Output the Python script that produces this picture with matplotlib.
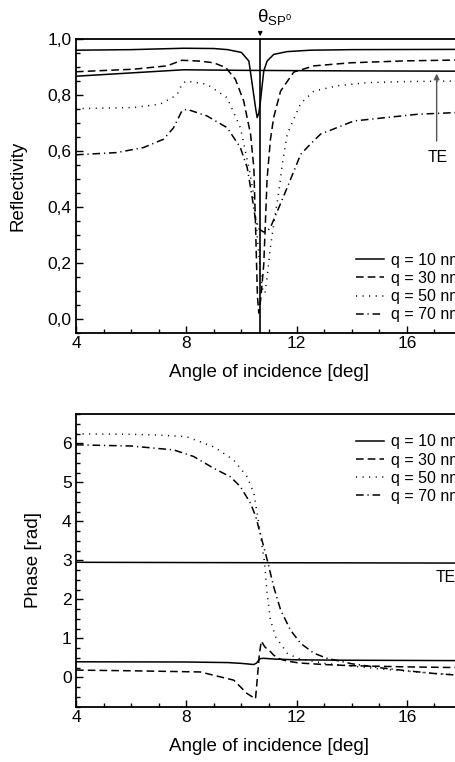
import matplotlib
matplotlib.use("Agg")
import matplotlib.pyplot as plt
from matplotlib.ticker import MultipleLocator, FixedLocator, FixedFormatter

plt.rcParams['font.family'] = ['Liberation Sans', 'DejaVu Sans']
plt.rcParams['mathtext.fontset'] = 'custom'
plt.rcParams['mathtext.rm'] = 'Liberation Sans'
plt.rcParams['mathtext.it'] = 'Liberation Sans:italic'

# ---------------- data: reflectivity ----------------
series_labels = ['q = 10 nm', 'q = 30 nm', 'q = 50 nm', 'q = 70 nm']

r_x10 = [4, 6, 7.9, 9.0, 9.5, 10.0, 10.27, 10.39, 10.51, 10.57, 10.63, 10.69, 10.81, 10.93, 11.17, 11.66, 12.5, 14, 18]
r_y10 = [0.960, 0.962, 0.967, 0.966, 0.962, 0.952, 0.921, 0.839, 0.755, 0.719, 0.735, 0.779, 0.886, 0.921, 0.945, 0.955, 0.960, 0.962, 0.963]

r_x30 = [4, 6.08, 7.3, 7.84, 8.5, 8.99, 9.43, 9.78, 10.08, 10.33, 10.45, 10.52, 10.58, 10.63, 10.7, 10.81, 10.93, 11.05, 11.17, 11.42, 11.9, 12.63, 13.96, 16, 18]
r_y30 = [0.883, 0.892, 0.904, 0.924, 0.921, 0.915, 0.898, 0.856, 0.779, 0.660, 0.540, 0.300, 0.080, 0.020, 0.070, 0.195, 0.500, 0.640, 0.720, 0.814, 0.882, 0.904, 0.915, 0.922, 0.925]

r_x50 = [4, 6.08, 7.05, 7.66, 7.84, 8.0, 8.75, 9.48, 9.96, 10.27, 10.45, 10.6, 10.75, 10.85, 10.93, 11.05, 11.17, 11.36, 11.48, 11.66, 12.15, 12.63, 13.5, 14.57, 16, 18]
r_y50 = [0.751, 0.755, 0.767, 0.800, 0.838, 0.850, 0.838, 0.790, 0.683, 0.540, 0.440, 0.260, 0.110, 0.090, 0.148, 0.255, 0.338, 0.457, 0.552, 0.660, 0.770, 0.814, 0.833, 0.844, 0.848, 0.850]

r_x70 = [4, 5.48, 6.45, 7.18, 7.54, 7.84, 8.02, 8.75, 9.48, 9.96, 10.21, 10.39, 10.5, 10.65, 10.8, 10.95, 11.05, 11.36, 11.66, 12.15, 12.5, 12.87, 14.08, 16.39, 18]
r_y70 = [0.586, 0.594, 0.612, 0.642, 0.683, 0.743, 0.749, 0.725, 0.683, 0.612, 0.540, 0.433, 0.360, 0.320, 0.310, 0.315, 0.326, 0.398, 0.469, 0.588, 0.624, 0.660, 0.707, 0.731, 0.738]

r_xte = [4, 7.9, 10, 14, 18]
r_yte = [0.867, 0.890, 0.888, 0.886, 0.885]

theta_sp0 = 10.68

# ---------------- data: phase ----------------
p_x10 = [4, 8, 9.5, 10.0, 10.45, 10.55, 10.67, 10.8, 11.2, 12, 14, 18]
p_y10 = [0.40, 0.395, 0.38, 0.36, 0.33, 0.37, 0.48, 0.49, 0.47, 0.45, 0.44, 0.43]

p_x30 = [4, 6, 8.5, 9.72, 10.2, 10.51, 10.57, 10.65, 10.72, 10.85, 11.05, 11.17, 11.4, 11.66, 12.08, 13, 14, 16, 18]
p_y30 = [0.187, 0.17, 0.14, -0.07, -0.41, -0.55, -0.07, 0.60, 0.93, 0.78, 0.66, 0.57, 0.47, 0.42, 0.37, 0.33, 0.30, 0.27, 0.25]

p_x50 = [4, 6, 7, 8, 8.99, 9.72, 10.21, 10.45, 10.63, 10.75, 10.84, 10.93, 11.05, 11.24, 11.66, 12.03, 13, 14, 15, 16, 17, 18]
p_y50 = [6.24, 6.23, 6.21, 6.17, 5.91, 5.57, 5.14, 4.72, 3.95, 3.35, 2.94, 2.15, 1.47, 1.04, 0.62, 0.49, 0.36, 0.29, 0.22, 0.16, 0.10, 0.06]

p_x70 = [4, 6, 6.45, 7.54, 8.27, 8.99, 9.6, 9.96, 10.33, 10.52, 10.96, 11.17, 11.42, 11.78, 12.15, 12.63, 13.1, 14, 15, 16, 17, 18]
p_y70 = [5.96, 5.93, 5.90, 5.83, 5.66, 5.36, 5.14, 4.89, 4.46, 4.12, 2.94, 2.32, 1.73, 1.21, 0.87, 0.62, 0.49, 0.35, 0.25, 0.17, 0.10, 0.05]

p_xte = [4, 10, 18]
p_yte = [2.95, 2.94, 2.93]

refl_ticks = [0.0, 0.2, 0.4, 0.6, 0.8, 1.0]
refl_ticklabels = ['0,0', '0,2', '0,4', '0,6', '0,8', '1,0']
phase_ticks = [0, 1, 2, 3, 4, 5, 6]
angle_ticks = [4, 8, 12, 16]

# ---------------- styles ----------------
LW = 1.1
styles = [dict(ls='-'),
          dict(ls=(0, (5, 2.7))),
          dict(ls=(0, (0.7, 3.6))),
          dict(ls=(0, (5, 2.5, 0.8, 2.5)))]

fig = plt.figure(figsize=(4.56, 7.62), dpi=100)
ax1 = fig.add_axes([0.1667, 0.5634, 0.8465, 0.3854])
ax2 = fig.add_axes([0.1667, 0.0726, 0.8465, 0.3841])

def style_axes(ax):
    for s in ax.spines.values():
        s.set_linewidth(1.3)
    ax.tick_params(which='both', direction='in', top=False, right=False, labelsize=12.5)
    ax.tick_params(which='major', length=5, width=1.0)
    ax.tick_params(which='minor', length=3, width=1.0)
    ax.tick_params(axis='x', pad=2.5)
    ax.tick_params(axis='y', pad=3.2)
    ax.xaxis.set_major_locator(FixedLocator(angle_ticks))
    ax.xaxis.set_minor_locator(MultipleLocator(1))
    ax.set_xlim(4, 18)
    ax.set_xlabel('Angle of incidence [deg]', fontsize=13.5)
    ax.xaxis.set_label_coords(0.5, -0.108)

legend_kw = dict(loc='upper left', frameon=False, fontsize=11.5, handlelength=1.75,
                 handletextpad=0.45, labelspacing=0.2, borderaxespad=0, borderpad=0)

# ----- top: reflectivity -----
for (x, y), st, lab in zip([(r_x10, r_y10), (r_x30, r_y30), (r_x50, r_y50), (r_x70, r_y70)], styles, series_labels):
    ax1.plot(x, y, color='black', lw=LW, label=lab, **st)
ax1.plot(r_xte, r_yte, color='black', lw=LW)
ax1.plot([theta_sp0, theta_sp0], [-0.05, 1.0], color='black', lw=1.2)
ax1.set_ylim(-0.05, 1.0)
style_axes(ax1)
ax1.yaxis.set_major_locator(FixedLocator(refl_ticks))
ax1.yaxis.set_major_formatter(FixedFormatter(refl_ticklabels))
ax1.yaxis.set_minor_locator(MultipleLocator(0.05))
ax1.set_ylabel('Reflectivity', fontsize=13.5)
ax1.yaxis.set_label_coords(-0.127, 0.5)

ax1.annotate('', xy=(17.08, 0.886), xytext=(17.08, 0.625),
             arrowprops=dict(arrowstyle='-|>', color='#555555', lw=1.0, mutation_scale=8))
ax1.text(17.13, 0.575, 'TE', fontsize=11.3, ha='center', va='center')

ax1.annotate('', xy=(theta_sp0, 1.0), xytext=(theta_sp0, 1.035),
             arrowprops=dict(arrowstyle='-|>', color='black', lw=0.9, mutation_scale=6),
             annotation_clip=False)
ax1.text(10.58, 1.061, r'θ$_{\mathrm{SP}^{\mathrm{0}}}$', fontsize=13.5, ha='left', va='baseline')

ax1.legend(bbox_to_anchor=(0.725, 0.272), **legend_kw)

# ----- bottom: phase -----
for (x, y), st, lab in zip([(p_x10, p_y10), (p_x30, p_y30), (p_x50, p_y50), (p_x70, p_y70)], styles, series_labels):
    ax2.plot(x, y, color='black', lw=LW, label=lab, **st)
ax2.plot(p_xte, p_yte, color='black', lw=LW)
ax2.set_ylim(-0.75, 6.75)
style_axes(ax2)
ax2.yaxis.set_major_locator(FixedLocator(phase_ticks))
ax2.yaxis.set_minor_locator(MultipleLocator(0.25))
ax2.set_ylabel('Phase [rad]', fontsize=13.5)
ax2.yaxis.set_label_coords(-0.088, 0.5)
ax2.text(17.05, 2.57, 'TE', fontsize=11.3, ha='left', va='center')

ax2.legend(bbox_to_anchor=(0.725, 0.93), **legend_kw)

fig.savefig('out.png', dpi=100)
